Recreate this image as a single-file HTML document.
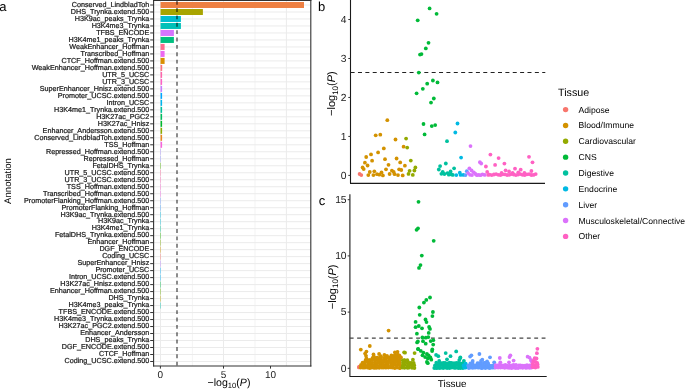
<!DOCTYPE html><html><head><meta charset="utf-8"><style>html,body{margin:0;padding:0;background:#fff;}svg{display:block;will-change:transform;}text{font-family:"Liberation Sans",sans-serif;text-rendering:geometricPrecision;}</style></head><body>
<svg width="685" height="389" viewBox="0 0 685 389">
<rect width="685" height="389" fill="#fff"/>
<line x1="160.5" y1="0.5" x2="160.5" y2="366.0" stroke="#EBEBEB" stroke-width="1.0"/>
<line x1="192.4" y1="0.5" x2="192.4" y2="366.0" stroke="#EBEBEB" stroke-width="0.6"/>
<line x1="223.5" y1="0.5" x2="223.5" y2="366.0" stroke="#EBEBEB" stroke-width="1.0"/>
<line x1="255.0" y1="0.5" x2="255.0" y2="366.0" stroke="#EBEBEB" stroke-width="0.6"/>
<line x1="286.4" y1="0.5" x2="286.4" y2="366.0" stroke="#EBEBEB" stroke-width="1.0"/>
<line x1="153.6" y1="5.00" x2="310.8" y2="5.00" stroke="#EBEBEB" stroke-width="1"/>
<line x1="153.6" y1="11.99" x2="310.8" y2="11.99" stroke="#EBEBEB" stroke-width="1"/>
<line x1="153.6" y1="18.98" x2="310.8" y2="18.98" stroke="#EBEBEB" stroke-width="1"/>
<line x1="153.6" y1="25.97" x2="310.8" y2="25.97" stroke="#EBEBEB" stroke-width="1"/>
<line x1="153.6" y1="32.96" x2="310.8" y2="32.96" stroke="#EBEBEB" stroke-width="1"/>
<line x1="153.6" y1="39.95" x2="310.8" y2="39.95" stroke="#EBEBEB" stroke-width="1"/>
<line x1="153.6" y1="46.94" x2="310.8" y2="46.94" stroke="#EBEBEB" stroke-width="1"/>
<line x1="153.6" y1="53.93" x2="310.8" y2="53.93" stroke="#EBEBEB" stroke-width="1"/>
<line x1="153.6" y1="60.92" x2="310.8" y2="60.92" stroke="#EBEBEB" stroke-width="1"/>
<line x1="153.6" y1="67.91" x2="310.8" y2="67.91" stroke="#EBEBEB" stroke-width="1"/>
<line x1="153.6" y1="74.90" x2="310.8" y2="74.90" stroke="#EBEBEB" stroke-width="1"/>
<line x1="153.6" y1="81.89" x2="310.8" y2="81.89" stroke="#EBEBEB" stroke-width="1"/>
<line x1="153.6" y1="88.88" x2="310.8" y2="88.88" stroke="#EBEBEB" stroke-width="1"/>
<line x1="153.6" y1="95.87" x2="310.8" y2="95.87" stroke="#EBEBEB" stroke-width="1"/>
<line x1="153.6" y1="102.86" x2="310.8" y2="102.86" stroke="#EBEBEB" stroke-width="1"/>
<line x1="153.6" y1="109.85" x2="310.8" y2="109.85" stroke="#EBEBEB" stroke-width="1"/>
<line x1="153.6" y1="116.84" x2="310.8" y2="116.84" stroke="#EBEBEB" stroke-width="1"/>
<line x1="153.6" y1="123.83" x2="310.8" y2="123.83" stroke="#EBEBEB" stroke-width="1"/>
<line x1="153.6" y1="130.82" x2="310.8" y2="130.82" stroke="#EBEBEB" stroke-width="1"/>
<line x1="153.6" y1="137.81" x2="310.8" y2="137.81" stroke="#EBEBEB" stroke-width="1"/>
<line x1="153.6" y1="144.80" x2="310.8" y2="144.80" stroke="#EBEBEB" stroke-width="1"/>
<line x1="153.6" y1="151.79" x2="310.8" y2="151.79" stroke="#EBEBEB" stroke-width="1"/>
<line x1="153.6" y1="158.78" x2="310.8" y2="158.78" stroke="#EBEBEB" stroke-width="1"/>
<line x1="153.6" y1="165.77" x2="310.8" y2="165.77" stroke="#EBEBEB" stroke-width="1"/>
<line x1="153.6" y1="172.76" x2="310.8" y2="172.76" stroke="#EBEBEB" stroke-width="1"/>
<line x1="153.6" y1="179.75" x2="310.8" y2="179.75" stroke="#EBEBEB" stroke-width="1"/>
<line x1="153.6" y1="186.74" x2="310.8" y2="186.74" stroke="#EBEBEB" stroke-width="1"/>
<line x1="153.6" y1="193.73" x2="310.8" y2="193.73" stroke="#EBEBEB" stroke-width="1"/>
<line x1="153.6" y1="200.72" x2="310.8" y2="200.72" stroke="#EBEBEB" stroke-width="1"/>
<line x1="153.6" y1="207.71" x2="310.8" y2="207.71" stroke="#EBEBEB" stroke-width="1"/>
<line x1="153.6" y1="214.70" x2="310.8" y2="214.70" stroke="#EBEBEB" stroke-width="1"/>
<line x1="153.6" y1="221.69" x2="310.8" y2="221.69" stroke="#EBEBEB" stroke-width="1"/>
<line x1="153.6" y1="228.68" x2="310.8" y2="228.68" stroke="#EBEBEB" stroke-width="1"/>
<line x1="153.6" y1="235.67" x2="310.8" y2="235.67" stroke="#EBEBEB" stroke-width="1"/>
<line x1="153.6" y1="242.66" x2="310.8" y2="242.66" stroke="#EBEBEB" stroke-width="1"/>
<line x1="153.6" y1="249.65" x2="310.8" y2="249.65" stroke="#EBEBEB" stroke-width="1"/>
<line x1="153.6" y1="256.64" x2="310.8" y2="256.64" stroke="#EBEBEB" stroke-width="1"/>
<line x1="153.6" y1="263.63" x2="310.8" y2="263.63" stroke="#EBEBEB" stroke-width="1"/>
<line x1="153.6" y1="270.62" x2="310.8" y2="270.62" stroke="#EBEBEB" stroke-width="1"/>
<line x1="153.6" y1="277.61" x2="310.8" y2="277.61" stroke="#EBEBEB" stroke-width="1"/>
<line x1="153.6" y1="284.60" x2="310.8" y2="284.60" stroke="#EBEBEB" stroke-width="1"/>
<line x1="153.6" y1="291.59" x2="310.8" y2="291.59" stroke="#EBEBEB" stroke-width="1"/>
<line x1="153.6" y1="298.58" x2="310.8" y2="298.58" stroke="#EBEBEB" stroke-width="1"/>
<line x1="153.6" y1="305.57" x2="310.8" y2="305.57" stroke="#EBEBEB" stroke-width="1"/>
<line x1="153.6" y1="312.56" x2="310.8" y2="312.56" stroke="#EBEBEB" stroke-width="1"/>
<line x1="153.6" y1="319.55" x2="310.8" y2="319.55" stroke="#EBEBEB" stroke-width="1"/>
<line x1="153.6" y1="326.54" x2="310.8" y2="326.54" stroke="#EBEBEB" stroke-width="1"/>
<line x1="153.6" y1="333.53" x2="310.8" y2="333.53" stroke="#EBEBEB" stroke-width="1"/>
<line x1="153.6" y1="340.52" x2="310.8" y2="340.52" stroke="#EBEBEB" stroke-width="1"/>
<line x1="153.6" y1="347.51" x2="310.8" y2="347.51" stroke="#EBEBEB" stroke-width="1"/>
<line x1="153.6" y1="354.50" x2="310.8" y2="354.50" stroke="#EBEBEB" stroke-width="1"/>
<line x1="153.6" y1="361.49" x2="310.8" y2="361.49" stroke="#EBEBEB" stroke-width="1"/>
<rect x="160.55" y="2.00" width="143.45" height="6.0" fill="#EE8043"/>
<rect x="160.55" y="8.99" width="42.35" height="6.0" fill="#A8A400"/>
<rect x="160.55" y="15.98" width="20.35" height="6.0" fill="#00BDD0"/>
<rect x="160.55" y="22.97" width="20.35" height="6.0" fill="#00C0B8"/>
<rect x="160.55" y="29.96" width="13.35" height="6.0" fill="#D575FE"/>
<rect x="160.55" y="36.95" width="13.35" height="6.0" fill="#00BF80"/>
<rect x="160.55" y="43.94" width="4.05" height="6.0" fill="#FF6D8E"/>
<rect x="160.55" y="50.93" width="4.05" height="6.0" fill="#EB69F0"/>
<rect x="160.55" y="57.92" width="4.05" height="6.0" fill="#D98F00"/>
<rect x="160.55" y="64.91" width="1.65" height="6.0" fill="#FC717E"/>
<rect x="160.55" y="71.90" width="1.55" height="6.0" fill="#FF65AC"/>
<rect x="160.55" y="78.89" width="1.55" height="6.0" fill="#FF61C6"/>
<rect x="160.55" y="85.88" width="1.55" height="6.0" fill="#C77CFF"/>
<rect x="160.55" y="92.87" width="1.55" height="6.0" fill="#00A7FF"/>
<rect x="160.55" y="99.86" width="1.55" height="6.0" fill="#00B5ED"/>
<rect x="160.55" y="106.85" width="1.55" height="6.0" fill="#00C19E"/>
<rect x="160.55" y="113.84" width="1.55" height="6.0" fill="#00BD5E"/>
<rect x="160.55" y="120.83" width="1.55" height="6.0" fill="#00B92E"/>
<rect x="160.55" y="127.82" width="1.55" height="6.0" fill="#8CAB00"/>
<rect x="160.55" y="134.81" width="1.55" height="6.0" fill="#E88521"/>
<rect x="160.55" y="141.80" width="1.55" height="6.0" fill="#F962DD"/>
<rect x="160" y="148.79" width="1" height="6.0" fill="#A28BFF" fill-opacity="0.4"/>
<rect x="160" y="155.78" width="1" height="6.0" fill="#8B93FF" fill-opacity="0.4"/>
<rect x="160" y="162.77" width="1" height="6.0" fill="#4FB400" fill-opacity="0.4"/>
<rect x="160" y="169.76" width="1" height="6.0" fill="#FF699D" fill-opacity="0.4"/>
<rect x="160" y="176.75" width="1" height="6.0" fill="#FF63B9" fill-opacity="0.4"/>
<rect x="160" y="183.74" width="1" height="6.0" fill="#FD61D2" fill-opacity="0.4"/>
<rect x="160" y="190.73" width="1" height="6.0" fill="#F365E7" fill-opacity="0.4"/>
<rect x="160" y="197.72" width="1" height="6.0" fill="#6D9AFF" fill-opacity="0.4"/>
<rect x="160" y="204.71" width="1" height="6.0" fill="#42A0FF" fill-opacity="0.4"/>
<rect x="160" y="211.70" width="1" height="6.0" fill="#00B8E4" fill-opacity="0.4"/>
<rect x="160" y="218.69" width="1" height="6.0" fill="#00BBDA" fill-opacity="0.4"/>
<rect x="160" y="225.68" width="1" height="6.0" fill="#00C090" fill-opacity="0.4"/>
<rect x="160" y="232.67" width="1" height="6.0" fill="#24B700" fill-opacity="0.4"/>
<rect x="160" y="239.66" width="1" height="6.0" fill="#7CAE00" fill-opacity="0.4"/>
<rect x="160" y="246.65" width="1" height="6.0" fill="#D19300" fill-opacity="0.4"/>
<rect x="160" y="253.64" width="1" height="6.0" fill="#F8766D" fill-opacity="0.4"/>
<rect x="160" y="260.63" width="1" height="6.0" fill="#B684FF" fill-opacity="0.4"/>
<rect x="160" y="267.62" width="1" height="6.0" fill="#00ACFC" fill-opacity="0.4"/>
<rect x="160" y="274.61" width="1" height="6.0" fill="#00B1F5" fill-opacity="0.4"/>
<rect x="160" y="281.60" width="1" height="6.0" fill="#00BB49" fill-opacity="0.4"/>
<rect x="160" y="288.59" width="1" height="6.0" fill="#68B100" fill-opacity="0.4"/>
<rect x="160" y="295.58" width="1" height="6.0" fill="#B4A000" fill-opacity="0.4"/>
<rect x="160" y="302.57" width="1" height="6.0" fill="#00C1AB" fill-opacity="0.4"/>
<line x1="177" y1="0.73" x2="177" y2="366.0" stroke="#000" stroke-opacity="0.6" stroke-width="1.5" stroke-dasharray="3.9 3.467"/>
<path d="M153.6 0V366.6M310.8 0V366.6" stroke="#333" stroke-width="1.1" fill="none"/>
<path d="M153.1 0.5H311.40000000000003M153.1 366.0H311.40000000000003" stroke="#333" stroke-width="1.1" fill="none"/>
<line x1="150.2" y1="5.00" x2="153.6" y2="5.00" stroke="#333" stroke-width="1"/>
<text x="149.3" y="6.80" font-size="7.2" fill="#1a1a1a" stroke="#1a1a1a" stroke-width="0.22" text-anchor="end">Conserved_LindbladToh</text>
<line x1="150.2" y1="11.99" x2="153.6" y2="11.99" stroke="#333" stroke-width="1"/>
<text x="149.3" y="13.79" font-size="7.2" fill="#1a1a1a" stroke="#1a1a1a" stroke-width="0.22" text-anchor="end">DHS_Trynka.extend.500</text>
<line x1="150.2" y1="18.98" x2="153.6" y2="18.98" stroke="#333" stroke-width="1"/>
<text x="149.3" y="20.78" font-size="7.2" fill="#1a1a1a" stroke="#1a1a1a" stroke-width="0.22" text-anchor="end">H3K9ac_peaks_Trynka</text>
<line x1="150.2" y1="25.97" x2="153.6" y2="25.97" stroke="#333" stroke-width="1"/>
<text x="149.3" y="27.77" font-size="7.2" fill="#1a1a1a" stroke="#1a1a1a" stroke-width="0.22" text-anchor="end">H3K4me3_Trynka</text>
<line x1="150.2" y1="32.96" x2="153.6" y2="32.96" stroke="#333" stroke-width="1"/>
<text x="149.3" y="34.76" font-size="7.2" fill="#1a1a1a" stroke="#1a1a1a" stroke-width="0.22" text-anchor="end">TFBS_ENCODE</text>
<line x1="150.2" y1="39.95" x2="153.6" y2="39.95" stroke="#333" stroke-width="1"/>
<text x="149.3" y="41.75" font-size="7.2" fill="#1a1a1a" stroke="#1a1a1a" stroke-width="0.22" text-anchor="end">H3K4me1_peaks_Trynka</text>
<line x1="150.2" y1="46.94" x2="153.6" y2="46.94" stroke="#333" stroke-width="1"/>
<text x="149.3" y="48.74" font-size="7.2" fill="#1a1a1a" stroke="#1a1a1a" stroke-width="0.22" text-anchor="end">WeakEnhancer_Hoffman</text>
<line x1="150.2" y1="53.93" x2="153.6" y2="53.93" stroke="#333" stroke-width="1"/>
<text x="149.3" y="55.73" font-size="7.2" fill="#1a1a1a" stroke="#1a1a1a" stroke-width="0.22" text-anchor="end">Transcribed_Hoffman</text>
<line x1="150.2" y1="60.92" x2="153.6" y2="60.92" stroke="#333" stroke-width="1"/>
<text x="149.3" y="62.72" font-size="7.2" fill="#1a1a1a" stroke="#1a1a1a" stroke-width="0.22" text-anchor="end">CTCF_Hoffman.extend.500</text>
<line x1="150.2" y1="67.91" x2="153.6" y2="67.91" stroke="#333" stroke-width="1"/>
<text x="149.3" y="69.71" font-size="7.2" fill="#1a1a1a" stroke="#1a1a1a" stroke-width="0.22" text-anchor="end">WeakEnhancer_Hoffman.extend.500</text>
<line x1="150.2" y1="74.90" x2="153.6" y2="74.90" stroke="#333" stroke-width="1"/>
<text x="149.3" y="76.70" font-size="7.2" fill="#1a1a1a" stroke="#1a1a1a" stroke-width="0.22" text-anchor="end">UTR_5_UCSC</text>
<line x1="150.2" y1="81.89" x2="153.6" y2="81.89" stroke="#333" stroke-width="1"/>
<text x="149.3" y="83.69" font-size="7.2" fill="#1a1a1a" stroke="#1a1a1a" stroke-width="0.22" text-anchor="end">UTR_3_UCSC</text>
<line x1="150.2" y1="88.88" x2="153.6" y2="88.88" stroke="#333" stroke-width="1"/>
<text x="149.3" y="90.68" font-size="7.2" fill="#1a1a1a" stroke="#1a1a1a" stroke-width="0.22" text-anchor="end">SuperEnhancer_Hnisz.extend.500</text>
<line x1="150.2" y1="95.87" x2="153.6" y2="95.87" stroke="#333" stroke-width="1"/>
<text x="149.3" y="97.67" font-size="7.2" fill="#1a1a1a" stroke="#1a1a1a" stroke-width="0.22" text-anchor="end">Promoter_UCSC.extend.500</text>
<line x1="150.2" y1="102.86" x2="153.6" y2="102.86" stroke="#333" stroke-width="1"/>
<text x="149.3" y="104.66" font-size="7.2" fill="#1a1a1a" stroke="#1a1a1a" stroke-width="0.22" text-anchor="end">Intron_UCSC</text>
<line x1="150.2" y1="109.85" x2="153.6" y2="109.85" stroke="#333" stroke-width="1"/>
<text x="149.3" y="111.65" font-size="7.2" fill="#1a1a1a" stroke="#1a1a1a" stroke-width="0.22" text-anchor="end">H3K4me1_Trynka.extend.500</text>
<line x1="150.2" y1="116.84" x2="153.6" y2="116.84" stroke="#333" stroke-width="1"/>
<text x="149.3" y="118.64" font-size="7.2" fill="#1a1a1a" stroke="#1a1a1a" stroke-width="0.22" text-anchor="end">H3K27ac_PGC2</text>
<line x1="150.2" y1="123.83" x2="153.6" y2="123.83" stroke="#333" stroke-width="1"/>
<text x="149.3" y="125.63" font-size="7.2" fill="#1a1a1a" stroke="#1a1a1a" stroke-width="0.22" text-anchor="end">H3K27ac_Hnisz</text>
<line x1="150.2" y1="130.82" x2="153.6" y2="130.82" stroke="#333" stroke-width="1"/>
<text x="149.3" y="132.62" font-size="7.2" fill="#1a1a1a" stroke="#1a1a1a" stroke-width="0.22" text-anchor="end">Enhancer_Andersson.extend.500</text>
<line x1="150.2" y1="137.81" x2="153.6" y2="137.81" stroke="#333" stroke-width="1"/>
<text x="149.3" y="139.61" font-size="7.2" fill="#1a1a1a" stroke="#1a1a1a" stroke-width="0.22" text-anchor="end">Conserved_LindbladToh.extend.500</text>
<line x1="150.2" y1="144.80" x2="153.6" y2="144.80" stroke="#333" stroke-width="1"/>
<text x="149.3" y="146.60" font-size="7.2" fill="#1a1a1a" stroke="#1a1a1a" stroke-width="0.22" text-anchor="end">TSS_Hoffman</text>
<line x1="150.2" y1="151.79" x2="153.6" y2="151.79" stroke="#333" stroke-width="1"/>
<text x="149.3" y="153.59" font-size="7.2" fill="#1a1a1a" stroke="#1a1a1a" stroke-width="0.22" text-anchor="end">Repressed_Hoffman.extend.500</text>
<line x1="150.2" y1="158.78" x2="153.6" y2="158.78" stroke="#333" stroke-width="1"/>
<text x="149.3" y="160.58" font-size="7.2" fill="#1a1a1a" stroke="#1a1a1a" stroke-width="0.22" text-anchor="end">Repressed_Hoffman</text>
<line x1="150.2" y1="165.77" x2="153.6" y2="165.77" stroke="#333" stroke-width="1"/>
<text x="149.3" y="167.57" font-size="7.2" fill="#1a1a1a" stroke="#1a1a1a" stroke-width="0.22" text-anchor="end">FetalDHS_Trynka</text>
<line x1="150.2" y1="172.76" x2="153.6" y2="172.76" stroke="#333" stroke-width="1"/>
<text x="149.3" y="174.56" font-size="7.2" fill="#1a1a1a" stroke="#1a1a1a" stroke-width="0.22" text-anchor="end">UTR_5_UCSC.extend.500</text>
<line x1="150.2" y1="179.75" x2="153.6" y2="179.75" stroke="#333" stroke-width="1"/>
<text x="149.3" y="181.55" font-size="7.2" fill="#1a1a1a" stroke="#1a1a1a" stroke-width="0.22" text-anchor="end">UTR_3_UCSC.extend.500</text>
<line x1="150.2" y1="186.74" x2="153.6" y2="186.74" stroke="#333" stroke-width="1"/>
<text x="149.3" y="188.54" font-size="7.2" fill="#1a1a1a" stroke="#1a1a1a" stroke-width="0.22" text-anchor="end">TSS_Hoffman.extend.500</text>
<line x1="150.2" y1="193.73" x2="153.6" y2="193.73" stroke="#333" stroke-width="1"/>
<text x="149.3" y="195.53" font-size="7.2" fill="#1a1a1a" stroke="#1a1a1a" stroke-width="0.22" text-anchor="end">Transcribed_Hoffman.extend.500</text>
<line x1="150.2" y1="200.72" x2="153.6" y2="200.72" stroke="#333" stroke-width="1"/>
<text x="149.3" y="202.52" font-size="7.2" fill="#1a1a1a" stroke="#1a1a1a" stroke-width="0.22" text-anchor="end">PromoterFlanking_Hoffman.extend.500</text>
<line x1="150.2" y1="207.71" x2="153.6" y2="207.71" stroke="#333" stroke-width="1"/>
<text x="149.3" y="209.51" font-size="7.2" fill="#1a1a1a" stroke="#1a1a1a" stroke-width="0.22" text-anchor="end">PromoterFlanking_Hoffman</text>
<line x1="150.2" y1="214.70" x2="153.6" y2="214.70" stroke="#333" stroke-width="1"/>
<text x="149.3" y="216.50" font-size="7.2" fill="#1a1a1a" stroke="#1a1a1a" stroke-width="0.22" text-anchor="end">H3K9ac_Trynka.extend.500</text>
<line x1="150.2" y1="221.69" x2="153.6" y2="221.69" stroke="#333" stroke-width="1"/>
<text x="149.3" y="223.49" font-size="7.2" fill="#1a1a1a" stroke="#1a1a1a" stroke-width="0.22" text-anchor="end">H3K9ac_Trynka</text>
<line x1="150.2" y1="228.68" x2="153.6" y2="228.68" stroke="#333" stroke-width="1"/>
<text x="149.3" y="230.48" font-size="7.2" fill="#1a1a1a" stroke="#1a1a1a" stroke-width="0.22" text-anchor="end">H3K4me1_Trynka</text>
<line x1="150.2" y1="235.67" x2="153.6" y2="235.67" stroke="#333" stroke-width="1"/>
<text x="149.3" y="237.47" font-size="7.2" fill="#1a1a1a" stroke="#1a1a1a" stroke-width="0.22" text-anchor="end">FetalDHS_Trynka.extend.500</text>
<line x1="150.2" y1="242.66" x2="153.6" y2="242.66" stroke="#333" stroke-width="1"/>
<text x="149.3" y="244.46" font-size="7.2" fill="#1a1a1a" stroke="#1a1a1a" stroke-width="0.22" text-anchor="end">Enhancer_Hoffman</text>
<line x1="150.2" y1="249.65" x2="153.6" y2="249.65" stroke="#333" stroke-width="1"/>
<text x="149.3" y="251.45" font-size="7.2" fill="#1a1a1a" stroke="#1a1a1a" stroke-width="0.22" text-anchor="end">DGF_ENCODE</text>
<line x1="150.2" y1="256.64" x2="153.6" y2="256.64" stroke="#333" stroke-width="1"/>
<text x="149.3" y="258.44" font-size="7.2" fill="#1a1a1a" stroke="#1a1a1a" stroke-width="0.22" text-anchor="end">Coding_UCSC</text>
<line x1="150.2" y1="263.63" x2="153.6" y2="263.63" stroke="#333" stroke-width="1"/>
<text x="149.3" y="265.43" font-size="7.2" fill="#1a1a1a" stroke="#1a1a1a" stroke-width="0.22" text-anchor="end">SuperEnhancer_Hnisz</text>
<line x1="150.2" y1="270.62" x2="153.6" y2="270.62" stroke="#333" stroke-width="1"/>
<text x="149.3" y="272.42" font-size="7.2" fill="#1a1a1a" stroke="#1a1a1a" stroke-width="0.22" text-anchor="end">Promoter_UCSC</text>
<line x1="150.2" y1="277.61" x2="153.6" y2="277.61" stroke="#333" stroke-width="1"/>
<text x="149.3" y="279.41" font-size="7.2" fill="#1a1a1a" stroke="#1a1a1a" stroke-width="0.22" text-anchor="end">Intron_UCSC.extend.500</text>
<line x1="150.2" y1="284.60" x2="153.6" y2="284.60" stroke="#333" stroke-width="1"/>
<text x="149.3" y="286.40" font-size="7.2" fill="#1a1a1a" stroke="#1a1a1a" stroke-width="0.22" text-anchor="end">H3K27ac_Hnisz.extend.500</text>
<line x1="150.2" y1="291.59" x2="153.6" y2="291.59" stroke="#333" stroke-width="1"/>
<text x="149.3" y="293.39" font-size="7.2" fill="#1a1a1a" stroke="#1a1a1a" stroke-width="0.22" text-anchor="end">Enhancer_Hoffman.extend.500</text>
<line x1="150.2" y1="298.58" x2="153.6" y2="298.58" stroke="#333" stroke-width="1"/>
<text x="149.3" y="300.38" font-size="7.2" fill="#1a1a1a" stroke="#1a1a1a" stroke-width="0.22" text-anchor="end">DHS_Trynka</text>
<line x1="150.2" y1="305.57" x2="153.6" y2="305.57" stroke="#333" stroke-width="1"/>
<text x="149.3" y="307.37" font-size="7.2" fill="#1a1a1a" stroke="#1a1a1a" stroke-width="0.22" text-anchor="end">H3K4me3_peaks_Trynka</text>
<line x1="150.2" y1="312.56" x2="153.6" y2="312.56" stroke="#333" stroke-width="1"/>
<text x="149.3" y="314.36" font-size="7.2" fill="#1a1a1a" stroke="#1a1a1a" stroke-width="0.22" text-anchor="end">TFBS_ENCODE.extend.500</text>
<line x1="150.2" y1="319.55" x2="153.6" y2="319.55" stroke="#333" stroke-width="1"/>
<text x="149.3" y="321.35" font-size="7.2" fill="#1a1a1a" stroke="#1a1a1a" stroke-width="0.22" text-anchor="end">H3K4me3_Trynka.extend.500</text>
<line x1="150.2" y1="326.54" x2="153.6" y2="326.54" stroke="#333" stroke-width="1"/>
<text x="149.3" y="328.34" font-size="7.2" fill="#1a1a1a" stroke="#1a1a1a" stroke-width="0.22" text-anchor="end">H3K27ac_PGC2.extend.500</text>
<line x1="150.2" y1="333.53" x2="153.6" y2="333.53" stroke="#333" stroke-width="1"/>
<text x="149.3" y="335.33" font-size="7.2" fill="#1a1a1a" stroke="#1a1a1a" stroke-width="0.22" text-anchor="end">Enhancer_Andersson</text>
<line x1="150.2" y1="340.52" x2="153.6" y2="340.52" stroke="#333" stroke-width="1"/>
<text x="149.3" y="342.32" font-size="7.2" fill="#1a1a1a" stroke="#1a1a1a" stroke-width="0.22" text-anchor="end">DHS_peaks_Trynka</text>
<line x1="150.2" y1="347.51" x2="153.6" y2="347.51" stroke="#333" stroke-width="1"/>
<text x="149.3" y="349.31" font-size="7.2" fill="#1a1a1a" stroke="#1a1a1a" stroke-width="0.22" text-anchor="end">DGF_ENCODE.extend.500</text>
<line x1="150.2" y1="354.50" x2="153.6" y2="354.50" stroke="#333" stroke-width="1"/>
<text x="149.3" y="356.30" font-size="7.2" fill="#1a1a1a" stroke="#1a1a1a" stroke-width="0.22" text-anchor="end">CTCF_Hoffman</text>
<line x1="150.2" y1="361.49" x2="153.6" y2="361.49" stroke="#333" stroke-width="1"/>
<text x="149.3" y="363.29" font-size="7.2" fill="#1a1a1a" stroke="#1a1a1a" stroke-width="0.22" text-anchor="end">Coding_UCSC.extend.500</text>
<line x1="160.4" y1="366.0" x2="160.4" y2="368.6" stroke="#333" stroke-width="1"/>
<text x="160.4" y="378.1" font-size="10" fill="#1a1a1a" text-anchor="middle">0</text>
<line x1="223.5" y1="366.0" x2="223.5" y2="368.6" stroke="#333" stroke-width="1"/>
<text x="223.5" y="378.1" font-size="10" fill="#1a1a1a" text-anchor="middle">5</text>
<line x1="270.5" y1="366.0" x2="270.5" y2="368.6" stroke="#333" stroke-width="1"/>
<text x="270.5" y="378.1" font-size="10" fill="#1a1a1a" text-anchor="middle">10</text>
<text x="229" y="385.6" font-size="10.6" fill="#000" text-anchor="middle">−log<tspan font-size="7.6" dy="2.2">10</tspan><tspan dy="-2.2">(</tspan><tspan font-style="italic">P</tspan>)</text>
<text transform="translate(11.0,181) rotate(-90)" font-size="9.6" fill="#000" text-anchor="middle">Annotation</text>
<text x="-0.8" y="10.8" font-size="13" fill="#000">a</text>
<text x="317.9" y="11.1" font-size="13" fill="#000">b</text>
<text x="318.8" y="204.7" font-size="13" fill="#000">c</text>
<path d="M350.5 0V183.4H545" stroke="#1a1a1a" stroke-width="1.1" fill="none" stroke-linejoin="round"/>
<line x1="348.3" y1="175.40" x2="350.5" y2="175.40" stroke="#333" stroke-width="1"/>
<text x="346.6" y="178.60" font-size="10.3" fill="#1a1a1a" text-anchor="end">0</text>
<line x1="348.3" y1="136.43" x2="350.5" y2="136.43" stroke="#333" stroke-width="1"/>
<text x="346.6" y="139.63" font-size="10.3" fill="#1a1a1a" text-anchor="end">1</text>
<line x1="348.3" y1="97.46" x2="350.5" y2="97.46" stroke="#333" stroke-width="1"/>
<text x="346.6" y="100.66" font-size="10.3" fill="#1a1a1a" text-anchor="end">2</text>
<line x1="348.3" y1="58.49" x2="350.5" y2="58.49" stroke="#333" stroke-width="1"/>
<text x="346.6" y="61.69" font-size="10.3" fill="#1a1a1a" text-anchor="end">3</text>
<line x1="348.3" y1="19.52" x2="350.5" y2="19.52" stroke="#333" stroke-width="1"/>
<text x="346.6" y="22.72" font-size="10.3" fill="#1a1a1a" text-anchor="end">4</text>
<line x1="350.6" y1="72.5" x2="545.3" y2="72.5" stroke="#222" stroke-width="1.1" stroke-dasharray="4.0 3.37"/>
<text transform="translate(335.4,93.6) rotate(-90)" font-size="11" fill="#000" text-anchor="middle">−log<tspan font-size="8" dy="2.3">10</tspan><tspan dy="-2.3">(</tspan><tspan font-style="italic">P</tspan>)</text>
<circle cx="359.6" cy="174.0" r="1.9" fill="#F8766D"/>
<circle cx="361.3" cy="175.1" r="1.9" fill="#F8766D"/>
<circle cx="387.3" cy="120.2" r="1.9" fill="#D39200"/>
<circle cx="375.7" cy="135.3" r="1.9" fill="#D39200"/>
<circle cx="380.3" cy="134.7" r="1.9" fill="#D39200"/>
<circle cx="395.5" cy="139.5" r="1.9" fill="#D39200"/>
<circle cx="403.6" cy="146.7" r="1.9" fill="#D39200"/>
<circle cx="383.8" cy="148.4" r="1.9" fill="#D39200"/>
<circle cx="378.1" cy="152.4" r="1.9" fill="#D39200"/>
<circle cx="371.0" cy="154.4" r="1.9" fill="#D39200"/>
<circle cx="366.2" cy="157.0" r="1.9" fill="#D39200"/>
<circle cx="385.0" cy="159.2" r="1.9" fill="#D39200"/>
<circle cx="396.6" cy="158.5" r="1.9" fill="#D39200"/>
<circle cx="372.1" cy="160.7" r="1.9" fill="#D39200"/>
<circle cx="364.9" cy="162.7" r="1.9" fill="#D39200"/>
<circle cx="367.6" cy="165.5" r="1.9" fill="#D39200"/>
<circle cx="400.2" cy="162.4" r="1.9" fill="#D39200"/>
<circle cx="388.5" cy="164.8" r="1.9" fill="#D39200"/>
<circle cx="404.9" cy="165.7" r="1.9" fill="#D39200"/>
<circle cx="362.6" cy="167.5" r="1.9" fill="#D39200"/>
<circle cx="363.7" cy="169.1" r="1.9" fill="#D39200"/>
<circle cx="386.0" cy="169.3" r="1.9" fill="#D39200"/>
<circle cx="399.1" cy="169.3" r="1.9" fill="#D39200"/>
<circle cx="401.3" cy="170.0" r="1.9" fill="#D39200"/>
<circle cx="391.9" cy="170.6" r="1.9" fill="#D39200"/>
<circle cx="369.8" cy="172.0" r="1.9" fill="#D39200"/>
<circle cx="374.3" cy="171.3" r="1.9" fill="#D39200"/>
<circle cx="381.5" cy="172.4" r="1.9" fill="#D39200"/>
<circle cx="393.7" cy="172.0" r="1.9" fill="#D39200"/>
<circle cx="368.3" cy="175.1" r="1.9" fill="#D39200"/>
<circle cx="373.4" cy="175.1" r="1.9" fill="#D39200"/>
<circle cx="377.0" cy="174.2" r="1.9" fill="#D39200"/>
<circle cx="379.3" cy="174.7" r="1.9" fill="#D39200"/>
<circle cx="382.9" cy="175.4" r="1.9" fill="#D39200"/>
<circle cx="389.6" cy="174.0" r="1.9" fill="#D39200"/>
<circle cx="394.6" cy="174.2" r="1.9" fill="#D39200"/>
<circle cx="398.0" cy="175.1" r="1.9" fill="#D39200"/>
<circle cx="402.7" cy="175.4" r="1.9" fill="#D39200"/>
<circle cx="406.1" cy="138.6" r="1.9" fill="#93AA00"/>
<circle cx="407.2" cy="147.6" r="1.9" fill="#93AA00"/>
<circle cx="410.8" cy="160.6" r="1.9" fill="#93AA00"/>
<circle cx="415.4" cy="167.4" r="1.9" fill="#93AA00"/>
<circle cx="409.6" cy="170.8" r="1.9" fill="#93AA00"/>
<circle cx="414.4" cy="170.5" r="1.9" fill="#93AA00"/>
<circle cx="408.5" cy="173.9" r="1.9" fill="#93AA00"/>
<circle cx="412.8" cy="174.9" r="1.9" fill="#93AA00"/>
<circle cx="429.6" cy="8.4" r="1.9" fill="#00BA38"/>
<circle cx="436.6" cy="13.8" r="1.9" fill="#00BA38"/>
<circle cx="417.7" cy="20.3" r="1.9" fill="#00BA38"/>
<circle cx="428.5" cy="42.8" r="1.9" fill="#00BA38"/>
<circle cx="425.8" cy="48.4" r="1.9" fill="#00BA38"/>
<circle cx="420.0" cy="54.6" r="1.9" fill="#00BA38"/>
<circle cx="421.5" cy="54.1" r="1.9" fill="#00BA38"/>
<circle cx="418.8" cy="72.6" r="1.9" fill="#00BA38"/>
<circle cx="432.9" cy="80.5" r="1.9" fill="#00BA38"/>
<circle cx="437.5" cy="82.4" r="1.9" fill="#00BA38"/>
<circle cx="427.2" cy="83.7" r="1.9" fill="#00BA38"/>
<circle cx="422.8" cy="88.8" r="1.9" fill="#00BA38"/>
<circle cx="416.6" cy="93.3" r="1.9" fill="#00BA38"/>
<circle cx="433.8" cy="98.5" r="1.9" fill="#00BA38"/>
<circle cx="431.0" cy="102.6" r="1.9" fill="#00BA38"/>
<circle cx="423.5" cy="124.0" r="1.9" fill="#00BA38"/>
<circle cx="431.8" cy="126.1" r="1.9" fill="#00BA38"/>
<circle cx="435.2" cy="125.1" r="1.9" fill="#00BA38"/>
<circle cx="424.6" cy="134.4" r="1.9" fill="#00BA38"/>
<circle cx="447.0" cy="141.2" r="1.9" fill="#00C19F"/>
<circle cx="445.8" cy="163.5" r="1.9" fill="#00C19F"/>
<circle cx="440.1" cy="166.1" r="1.9" fill="#00C19F"/>
<circle cx="454.1" cy="168.3" r="1.9" fill="#00C19F"/>
<circle cx="438.8" cy="169.5" r="1.9" fill="#00C19F"/>
<circle cx="442.7" cy="171.8" r="1.9" fill="#00C19F"/>
<circle cx="441.4" cy="173.8" r="1.9" fill="#00C19F"/>
<circle cx="444.4" cy="174.0" r="1.9" fill="#00C19F"/>
<circle cx="447.5" cy="173.1" r="1.9" fill="#00C19F"/>
<circle cx="450.6" cy="171.4" r="1.9" fill="#00C19F"/>
<circle cx="451.5" cy="174.4" r="1.9" fill="#00C19F"/>
<circle cx="448.8" cy="174.7" r="1.9" fill="#00C19F"/>
<circle cx="452.8" cy="174.9" r="1.9" fill="#00C19F"/>
<circle cx="457.5" cy="123.5" r="1.9" fill="#00B9E3"/>
<circle cx="455.3" cy="132.5" r="1.9" fill="#00B9E3"/>
<circle cx="461.1" cy="157.6" r="1.9" fill="#00B9E3"/>
<circle cx="456.3" cy="175.1" r="1.9" fill="#00B9E3"/>
<circle cx="459.8" cy="172.7" r="1.9" fill="#00B9E3"/>
<circle cx="460.6" cy="174.9" r="1.9" fill="#00B9E3"/>
<circle cx="463.3" cy="174.9" r="1.9" fill="#00B9E3"/>
<circle cx="466.8" cy="171.2" r="1.9" fill="#619CFF"/>
<circle cx="465.5" cy="175.1" r="1.9" fill="#619CFF"/>
<circle cx="470.5" cy="146.1" r="1.9" fill="#DB72FB"/>
<circle cx="479.9" cy="162.2" r="1.9" fill="#DB72FB"/>
<circle cx="481.2" cy="163.5" r="1.9" fill="#DB72FB"/>
<circle cx="469.4" cy="168.3" r="1.9" fill="#DB72FB"/>
<circle cx="468.1" cy="173.1" r="1.9" fill="#DB72FB"/>
<circle cx="471.6" cy="170.5" r="1.9" fill="#DB72FB"/>
<circle cx="473.8" cy="172.3" r="1.9" fill="#DB72FB"/>
<circle cx="475.5" cy="174.0" r="1.9" fill="#DB72FB"/>
<circle cx="472.0" cy="175.1" r="1.9" fill="#DB72FB"/>
<circle cx="478.6" cy="174.9" r="1.9" fill="#DB72FB"/>
<circle cx="482.5" cy="174.4" r="1.9" fill="#DB72FB"/>
<circle cx="484.7" cy="174.9" r="1.9" fill="#DB72FB"/>
<circle cx="470.0" cy="174.8" r="1.9" fill="#DB72FB"/>
<circle cx="476.9" cy="175.2" r="1.9" fill="#DB72FB"/>
<circle cx="480.5" cy="175.2" r="1.9" fill="#DB72FB"/>
<circle cx="490.4" cy="154.6" r="1.9" fill="#FF61C3"/>
<circle cx="498.6" cy="158.1" r="1.9" fill="#FF61C3"/>
<circle cx="495.1" cy="164.9" r="1.9" fill="#FF61C3"/>
<circle cx="504.4" cy="163.6" r="1.9" fill="#FF61C3"/>
<circle cx="485.9" cy="166.5" r="1.9" fill="#FF61C3"/>
<circle cx="529.0" cy="156.8" r="1.9" fill="#FF61C3"/>
<circle cx="532.5" cy="162.3" r="1.9" fill="#FF61C3"/>
<circle cx="515.0" cy="168.7" r="1.9" fill="#FF61C3"/>
<circle cx="520.7" cy="169.7" r="1.9" fill="#FF61C3"/>
<circle cx="505.6" cy="170.3" r="1.9" fill="#FF61C3"/>
<circle cx="531.4" cy="171.0" r="1.9" fill="#FF61C3"/>
<circle cx="509.1" cy="171.5" r="1.9" fill="#FF61C3"/>
<circle cx="487.2" cy="171.9" r="1.9" fill="#FF61C3"/>
<circle cx="501.6" cy="172.9" r="1.9" fill="#FF61C3"/>
<circle cx="512.6" cy="173.0" r="1.9" fill="#FF61C3"/>
<circle cx="524.4" cy="172.9" r="1.9" fill="#FF61C3"/>
<circle cx="518.3" cy="172.3" r="1.9" fill="#FF61C3"/>
<circle cx="488.2" cy="174.9" r="1.9" fill="#FF61C3"/>
<circle cx="489.5" cy="174.6" r="1.9" fill="#FF61C3"/>
<circle cx="491.7" cy="175.1" r="1.9" fill="#FF61C3"/>
<circle cx="493.9" cy="174.5" r="1.9" fill="#FF61C3"/>
<circle cx="496.1" cy="174.1" r="1.9" fill="#FF61C3"/>
<circle cx="498.3" cy="174.8" r="1.9" fill="#FF61C3"/>
<circle cx="500.5" cy="175.0" r="1.9" fill="#FF61C3"/>
<circle cx="502.7" cy="174.3" r="1.9" fill="#FF61C3"/>
<circle cx="504.9" cy="174.3" r="1.9" fill="#FF61C3"/>
<circle cx="507.1" cy="175.0" r="1.9" fill="#FF61C3"/>
<circle cx="509.3" cy="174.8" r="1.9" fill="#FF61C3"/>
<circle cx="511.5" cy="174.1" r="1.9" fill="#FF61C3"/>
<circle cx="513.7" cy="174.5" r="1.9" fill="#FF61C3"/>
<circle cx="515.9" cy="175.1" r="1.9" fill="#FF61C3"/>
<circle cx="518.1" cy="174.5" r="1.9" fill="#FF61C3"/>
<circle cx="520.3" cy="174.1" r="1.9" fill="#FF61C3"/>
<circle cx="522.5" cy="174.8" r="1.9" fill="#FF61C3"/>
<circle cx="524.7" cy="175.0" r="1.9" fill="#FF61C3"/>
<circle cx="526.9" cy="174.3" r="1.9" fill="#FF61C3"/>
<circle cx="529.1" cy="174.2" r="1.9" fill="#FF61C3"/>
<circle cx="531.3" cy="175.0" r="1.9" fill="#FF61C3"/>
<circle cx="533.5" cy="174.9" r="1.9" fill="#FF61C3"/>
<circle cx="535.7" cy="174.1" r="1.9" fill="#FF61C3"/>
<path d="M349.9 194.3V376.45H546.7" stroke="#1a1a1a" stroke-width="1.1" fill="none" stroke-linejoin="round"/>
<line x1="347.7" y1="368.30" x2="349.9" y2="368.30" stroke="#333" stroke-width="1"/>
<text x="346.6" y="371.50" font-size="10.3" fill="#1a1a1a" text-anchor="end">0</text>
<line x1="347.7" y1="312.10" x2="349.9" y2="312.10" stroke="#333" stroke-width="1"/>
<text x="346.6" y="315.30" font-size="10.3" fill="#1a1a1a" text-anchor="end">5</text>
<line x1="347.7" y1="255.90" x2="349.9" y2="255.90" stroke="#333" stroke-width="1"/>
<text x="346.6" y="259.10" font-size="10.3" fill="#1a1a1a" text-anchor="end">10</text>
<line x1="347.7" y1="199.70" x2="349.9" y2="199.70" stroke="#333" stroke-width="1"/>
<text x="346.6" y="202.90" font-size="10.3" fill="#1a1a1a" text-anchor="end">15</text>
<line x1="349.75" y1="338.1" x2="546.5" y2="338.1" stroke="#444" stroke-width="1.4" stroke-dasharray="3.85 3.53"/>
<circle cx="358.9" cy="367.4" r="1.9" fill="#F8766D"/>
<circle cx="359.2" cy="366.6" r="1.9" fill="#F8766D"/>
<circle cx="360.6" cy="367.5" r="1.9" fill="#D39200"/>
<circle cx="361.0" cy="364.9" r="1.9" fill="#D39200"/>
<circle cx="363.1" cy="367.7" r="1.9" fill="#D39200"/>
<circle cx="362.7" cy="365.3" r="1.9" fill="#D39200"/>
<circle cx="362.6" cy="362.6" r="1.9" fill="#D39200"/>
<circle cx="365.0" cy="367.5" r="1.9" fill="#D39200"/>
<circle cx="365.3" cy="365.5" r="1.9" fill="#D39200"/>
<circle cx="365.0" cy="362.5" r="1.9" fill="#D39200"/>
<circle cx="365.5" cy="360.5" r="1.9" fill="#D39200"/>
<circle cx="367.8" cy="367.7" r="1.9" fill="#D39200"/>
<circle cx="368.2" cy="364.9" r="1.9" fill="#D39200"/>
<circle cx="368.0" cy="362.5" r="1.9" fill="#D39200"/>
<circle cx="367.3" cy="359.8" r="1.9" fill="#D39200"/>
<circle cx="369.8" cy="368.1" r="1.9" fill="#D39200"/>
<circle cx="369.7" cy="365.3" r="1.9" fill="#D39200"/>
<circle cx="370.1" cy="362.6" r="1.9" fill="#D39200"/>
<circle cx="370.0" cy="359.8" r="1.9" fill="#D39200"/>
<circle cx="371.8" cy="367.6" r="1.9" fill="#D39200"/>
<circle cx="372.5" cy="365.2" r="1.9" fill="#D39200"/>
<circle cx="372.1" cy="362.8" r="1.9" fill="#D39200"/>
<circle cx="372.2" cy="360.0" r="1.9" fill="#D39200"/>
<circle cx="372.6" cy="357.8" r="1.9" fill="#D39200"/>
<circle cx="374.3" cy="367.9" r="1.9" fill="#D39200"/>
<circle cx="374.6" cy="365.6" r="1.9" fill="#D39200"/>
<circle cx="374.8" cy="362.5" r="1.9" fill="#D39200"/>
<circle cx="375.1" cy="359.8" r="1.9" fill="#D39200"/>
<circle cx="374.5" cy="357.8" r="1.9" fill="#D39200"/>
<circle cx="376.5" cy="367.8" r="1.9" fill="#D39200"/>
<circle cx="376.4" cy="365.4" r="1.9" fill="#D39200"/>
<circle cx="377.1" cy="362.8" r="1.9" fill="#D39200"/>
<circle cx="377.2" cy="360.0" r="1.9" fill="#D39200"/>
<circle cx="377.1" cy="357.7" r="1.9" fill="#D39200"/>
<circle cx="379.2" cy="367.8" r="1.9" fill="#D39200"/>
<circle cx="379.5" cy="365.6" r="1.9" fill="#D39200"/>
<circle cx="379.1" cy="362.8" r="1.9" fill="#D39200"/>
<circle cx="378.7" cy="360.3" r="1.9" fill="#D39200"/>
<circle cx="379.3" cy="358.0" r="1.9" fill="#D39200"/>
<circle cx="381.8" cy="367.6" r="1.9" fill="#D39200"/>
<circle cx="381.3" cy="365.4" r="1.9" fill="#D39200"/>
<circle cx="381.0" cy="362.7" r="1.9" fill="#D39200"/>
<circle cx="381.1" cy="359.8" r="1.9" fill="#D39200"/>
<circle cx="381.0" cy="357.8" r="1.9" fill="#D39200"/>
<circle cx="383.4" cy="367.6" r="1.9" fill="#D39200"/>
<circle cx="383.6" cy="365.5" r="1.9" fill="#D39200"/>
<circle cx="383.3" cy="362.7" r="1.9" fill="#D39200"/>
<circle cx="383.8" cy="360.5" r="1.9" fill="#D39200"/>
<circle cx="384.1" cy="357.9" r="1.9" fill="#D39200"/>
<circle cx="385.8" cy="367.7" r="1.9" fill="#D39200"/>
<circle cx="385.9" cy="365.6" r="1.9" fill="#D39200"/>
<circle cx="386.5" cy="362.4" r="1.9" fill="#D39200"/>
<circle cx="385.7" cy="359.9" r="1.9" fill="#D39200"/>
<circle cx="385.8" cy="357.6" r="1.9" fill="#D39200"/>
<circle cx="388.4" cy="367.6" r="1.9" fill="#D39200"/>
<circle cx="387.8" cy="365.2" r="1.9" fill="#D39200"/>
<circle cx="388.2" cy="362.8" r="1.9" fill="#D39200"/>
<circle cx="388.8" cy="360.3" r="1.9" fill="#D39200"/>
<circle cx="388.4" cy="357.7" r="1.9" fill="#D39200"/>
<circle cx="390.8" cy="367.4" r="1.9" fill="#D39200"/>
<circle cx="391.0" cy="365.5" r="1.9" fill="#D39200"/>
<circle cx="391.0" cy="362.9" r="1.9" fill="#D39200"/>
<circle cx="390.5" cy="360.1" r="1.9" fill="#D39200"/>
<circle cx="390.2" cy="357.7" r="1.9" fill="#D39200"/>
<circle cx="392.5" cy="367.5" r="1.9" fill="#D39200"/>
<circle cx="392.6" cy="365.0" r="1.9" fill="#D39200"/>
<circle cx="392.8" cy="362.3" r="1.9" fill="#D39200"/>
<circle cx="392.4" cy="359.9" r="1.9" fill="#D39200"/>
<circle cx="392.5" cy="357.5" r="1.9" fill="#D39200"/>
<circle cx="394.8" cy="368.1" r="1.9" fill="#D39200"/>
<circle cx="395.3" cy="365.0" r="1.9" fill="#D39200"/>
<circle cx="395.0" cy="362.6" r="1.9" fill="#D39200"/>
<circle cx="395.1" cy="359.8" r="1.9" fill="#D39200"/>
<circle cx="395.6" cy="358.0" r="1.9" fill="#D39200"/>
<circle cx="395.2" cy="355.0" r="1.9" fill="#D39200"/>
<circle cx="397.1" cy="367.5" r="1.9" fill="#D39200"/>
<circle cx="397.4" cy="365.1" r="1.9" fill="#D39200"/>
<circle cx="397.8" cy="362.4" r="1.9" fill="#D39200"/>
<circle cx="397.0" cy="360.5" r="1.9" fill="#D39200"/>
<circle cx="397.5" cy="357.3" r="1.9" fill="#D39200"/>
<circle cx="397.6" cy="354.7" r="1.9" fill="#D39200"/>
<circle cx="399.8" cy="368.2" r="1.9" fill="#D39200"/>
<circle cx="400.2" cy="365.4" r="1.9" fill="#D39200"/>
<circle cx="399.6" cy="362.6" r="1.9" fill="#D39200"/>
<circle cx="399.5" cy="360.4" r="1.9" fill="#D39200"/>
<circle cx="399.8" cy="357.8" r="1.9" fill="#D39200"/>
<circle cx="388.6" cy="330.6" r="1.9" fill="#D39200"/>
<circle cx="369.8" cy="346.0" r="1.9" fill="#D39200"/>
<circle cx="360.8" cy="349.6" r="1.9" fill="#D39200"/>
<circle cx="366.4" cy="351.6" r="1.9" fill="#D39200"/>
<circle cx="365.1" cy="353.6" r="1.9" fill="#D39200"/>
<circle cx="366.0" cy="355.8" r="1.9" fill="#D39200"/>
<circle cx="366.4" cy="358.4" r="1.9" fill="#D39200"/>
<circle cx="373.5" cy="354.4" r="1.9" fill="#D39200"/>
<circle cx="373.9" cy="356.6" r="1.9" fill="#D39200"/>
<circle cx="375.2" cy="359.7" r="1.9" fill="#D39200"/>
<circle cx="379.1" cy="354.0" r="1.9" fill="#D39200"/>
<circle cx="380.9" cy="356.2" r="1.9" fill="#D39200"/>
<circle cx="384.4" cy="354.9" r="1.9" fill="#D39200"/>
<circle cx="387.0" cy="355.8" r="1.9" fill="#D39200"/>
<circle cx="391.4" cy="355.3" r="1.9" fill="#D39200"/>
<circle cx="394.9" cy="352.3" r="1.9" fill="#D39200"/>
<circle cx="397.5" cy="351.8" r="1.9" fill="#D39200"/>
<circle cx="394.0" cy="355.8" r="1.9" fill="#D39200"/>
<circle cx="396.7" cy="356.6" r="1.9" fill="#D39200"/>
<circle cx="399.3" cy="355.3" r="1.9" fill="#D39200"/>
<circle cx="401.0" cy="357.5" r="1.9" fill="#D39200"/>
<circle cx="402.3" cy="367.6" r="1.9" fill="#93AA00"/>
<circle cx="402.8" cy="365.6" r="1.9" fill="#93AA00"/>
<circle cx="402.9" cy="362.9" r="1.9" fill="#93AA00"/>
<circle cx="402.8" cy="360.3" r="1.9" fill="#93AA00"/>
<circle cx="404.5" cy="367.8" r="1.9" fill="#93AA00"/>
<circle cx="404.7" cy="364.9" r="1.9" fill="#93AA00"/>
<circle cx="404.3" cy="362.5" r="1.9" fill="#93AA00"/>
<circle cx="404.6" cy="360.3" r="1.9" fill="#93AA00"/>
<circle cx="407.5" cy="367.8" r="1.9" fill="#93AA00"/>
<circle cx="407.5" cy="365.6" r="1.9" fill="#93AA00"/>
<circle cx="407.5" cy="362.6" r="1.9" fill="#93AA00"/>
<circle cx="409.1" cy="367.6" r="1.9" fill="#93AA00"/>
<circle cx="409.1" cy="365.0" r="1.9" fill="#93AA00"/>
<circle cx="409.5" cy="363.0" r="1.9" fill="#93AA00"/>
<circle cx="412.0" cy="367.8" r="1.9" fill="#93AA00"/>
<circle cx="411.8" cy="365.5" r="1.9" fill="#93AA00"/>
<circle cx="411.3" cy="362.8" r="1.9" fill="#93AA00"/>
<circle cx="414.4" cy="368.0" r="1.9" fill="#93AA00"/>
<circle cx="414.2" cy="365.2" r="1.9" fill="#93AA00"/>
<circle cx="413.7" cy="362.9" r="1.9" fill="#93AA00"/>
<circle cx="404.1" cy="352.3" r="1.9" fill="#93AA00"/>
<circle cx="405.0" cy="352.7" r="1.9" fill="#93AA00"/>
<circle cx="414.6" cy="353.1" r="1.9" fill="#93AA00"/>
<circle cx="412.9" cy="359.7" r="1.9" fill="#93AA00"/>
<circle cx="404.3" cy="360.2" r="1.9" fill="#93AA00"/>
<circle cx="407.3" cy="360.2" r="1.9" fill="#93AA00"/>
<circle cx="418.5" cy="201.8" r="1.9" fill="#00BA38"/>
<circle cx="416.6" cy="229.8" r="1.9" fill="#00BA38"/>
<circle cx="418.0" cy="228.3" r="1.9" fill="#00BA38"/>
<circle cx="433.7" cy="240.8" r="1.9" fill="#00BA38"/>
<circle cx="421.8" cy="255.6" r="1.9" fill="#00BA38"/>
<circle cx="420.5" cy="265.1" r="1.9" fill="#00BA38"/>
<circle cx="419.0" cy="267.9" r="1.9" fill="#00BA38"/>
<circle cx="430.0" cy="297.5" r="1.9" fill="#00BA38"/>
<circle cx="426.3" cy="299.9" r="1.9" fill="#00BA38"/>
<circle cx="423.9" cy="302.6" r="1.9" fill="#00BA38"/>
<circle cx="419.3" cy="307.5" r="1.9" fill="#00BA38"/>
<circle cx="432.9" cy="312.0" r="1.9" fill="#00BA38"/>
<circle cx="432.4" cy="316.1" r="1.9" fill="#00BA38"/>
<circle cx="419.7" cy="314.8" r="1.9" fill="#00BA38"/>
<circle cx="425.5" cy="319.5" r="1.9" fill="#00BA38"/>
<circle cx="426.5" cy="322.1" r="1.9" fill="#00BA38"/>
<circle cx="415.6" cy="321.9" r="1.9" fill="#00BA38"/>
<circle cx="418.8" cy="326.0" r="1.9" fill="#00BA38"/>
<circle cx="415.6" cy="327.2" r="1.9" fill="#00BA38"/>
<circle cx="422.0" cy="328.3" r="1.9" fill="#00BA38"/>
<circle cx="429.1" cy="327.0" r="1.9" fill="#00BA38"/>
<circle cx="430.0" cy="328.9" r="1.9" fill="#00BA38"/>
<circle cx="428.7" cy="332.9" r="1.9" fill="#00BA38"/>
<circle cx="416.9" cy="333.7" r="1.9" fill="#00BA38"/>
<circle cx="422.4" cy="337.5" r="1.9" fill="#00BA38"/>
<circle cx="425.8" cy="337.7" r="1.9" fill="#00BA38"/>
<circle cx="428.3" cy="337.1" r="1.9" fill="#00BA38"/>
<circle cx="423.0" cy="341.2" r="1.9" fill="#00BA38"/>
<circle cx="425.7" cy="343.7" r="1.9" fill="#00BA38"/>
<circle cx="430.7" cy="341.1" r="1.9" fill="#00BA38"/>
<circle cx="433.3" cy="340.2" r="1.9" fill="#00BA38"/>
<circle cx="433.2" cy="344.6" r="1.9" fill="#00BA38"/>
<circle cx="417.1" cy="342.4" r="1.9" fill="#00BA38"/>
<circle cx="417.9" cy="341.4" r="1.9" fill="#00BA38"/>
<circle cx="418.1" cy="349.2" r="1.9" fill="#00BA38"/>
<circle cx="420.8" cy="350.9" r="1.9" fill="#00BA38"/>
<circle cx="423.4" cy="352.7" r="1.9" fill="#00BA38"/>
<circle cx="426.9" cy="354.0" r="1.9" fill="#00BA38"/>
<circle cx="428.6" cy="355.3" r="1.9" fill="#00BA38"/>
<circle cx="432.1" cy="351.0" r="1.9" fill="#00BA38"/>
<circle cx="422.5" cy="355.3" r="1.9" fill="#00BA38"/>
<circle cx="425.1" cy="357.1" r="1.9" fill="#00BA38"/>
<circle cx="427.8" cy="358.4" r="1.9" fill="#00BA38"/>
<circle cx="430.4" cy="357.5" r="1.9" fill="#00BA38"/>
<circle cx="431.3" cy="359.7" r="1.9" fill="#00BA38"/>
<circle cx="426.9" cy="361.9" r="1.9" fill="#00BA38"/>
<circle cx="427.8" cy="363.2" r="1.9" fill="#00BA38"/>
<circle cx="418.1" cy="348.8" r="1.9" fill="#00BA38"/>
<circle cx="432.3" cy="349.5" r="1.9" fill="#00BA38"/>
<circle cx="434.3" cy="368.0" r="1.9" fill="#00C19F"/>
<circle cx="435.0" cy="365.3" r="1.9" fill="#00C19F"/>
<circle cx="436.6" cy="368.2" r="1.9" fill="#00C19F"/>
<circle cx="436.9" cy="365.1" r="1.9" fill="#00C19F"/>
<circle cx="436.3" cy="362.7" r="1.9" fill="#00C19F"/>
<circle cx="439.2" cy="368.0" r="1.9" fill="#00C19F"/>
<circle cx="438.5" cy="365.7" r="1.9" fill="#00C19F"/>
<circle cx="439.3" cy="363.1" r="1.9" fill="#00C19F"/>
<circle cx="440.8" cy="367.8" r="1.9" fill="#00C19F"/>
<circle cx="440.6" cy="365.0" r="1.9" fill="#00C19F"/>
<circle cx="441.5" cy="363.1" r="1.9" fill="#00C19F"/>
<circle cx="443.2" cy="368.1" r="1.9" fill="#00C19F"/>
<circle cx="443.1" cy="365.7" r="1.9" fill="#00C19F"/>
<circle cx="443.5" cy="362.8" r="1.9" fill="#00C19F"/>
<circle cx="445.1" cy="367.6" r="1.9" fill="#00C19F"/>
<circle cx="445.0" cy="365.5" r="1.9" fill="#00C19F"/>
<circle cx="445.1" cy="362.9" r="1.9" fill="#00C19F"/>
<circle cx="447.1" cy="368.1" r="1.9" fill="#00C19F"/>
<circle cx="447.3" cy="365.4" r="1.9" fill="#00C19F"/>
<circle cx="447.5" cy="363.3" r="1.9" fill="#00C19F"/>
<circle cx="449.5" cy="368.1" r="1.9" fill="#00C19F"/>
<circle cx="449.6" cy="365.4" r="1.9" fill="#00C19F"/>
<circle cx="449.6" cy="362.6" r="1.9" fill="#00C19F"/>
<circle cx="451.7" cy="367.5" r="1.9" fill="#00C19F"/>
<circle cx="451.3" cy="365.6" r="1.9" fill="#00C19F"/>
<circle cx="451.5" cy="363.0" r="1.9" fill="#00C19F"/>
<circle cx="454.2" cy="367.8" r="1.9" fill="#00C19F"/>
<circle cx="453.8" cy="365.4" r="1.9" fill="#00C19F"/>
<circle cx="454.0" cy="363.2" r="1.9" fill="#00C19F"/>
<circle cx="455.7" cy="367.8" r="1.9" fill="#00C19F"/>
<circle cx="455.8" cy="365.2" r="1.9" fill="#00C19F"/>
<circle cx="456.4" cy="363.0" r="1.9" fill="#00C19F"/>
<circle cx="458.3" cy="368.0" r="1.9" fill="#00C19F"/>
<circle cx="458.7" cy="365.4" r="1.9" fill="#00C19F"/>
<circle cx="458.4" cy="363.0" r="1.9" fill="#00C19F"/>
<circle cx="460.4" cy="368.0" r="1.9" fill="#00C19F"/>
<circle cx="460.4" cy="365.4" r="1.9" fill="#00C19F"/>
<circle cx="460.4" cy="363.4" r="1.9" fill="#00C19F"/>
<circle cx="462.8" cy="368.1" r="1.9" fill="#00C19F"/>
<circle cx="463.0" cy="365.2" r="1.9" fill="#00C19F"/>
<circle cx="462.6" cy="363.4" r="1.9" fill="#00C19F"/>
<circle cx="436.1" cy="354.9" r="1.9" fill="#00C19F"/>
<circle cx="438.3" cy="356.2" r="1.9" fill="#00C19F"/>
<circle cx="445.7" cy="353.1" r="1.9" fill="#00C19F"/>
<circle cx="456.2" cy="351.4" r="1.9" fill="#00C19F"/>
<circle cx="450.5" cy="356.2" r="1.9" fill="#00C19F"/>
<circle cx="447.0" cy="359.3" r="1.9" fill="#00C19F"/>
<circle cx="460.2" cy="358.0" r="1.9" fill="#00C19F"/>
<circle cx="459.3" cy="360.1" r="1.9" fill="#00C19F"/>
<circle cx="439.2" cy="361.0" r="1.9" fill="#00C19F"/>
<circle cx="460.4" cy="357.5" r="1.9" fill="#00C19F"/>
<circle cx="463.9" cy="361.0" r="1.9" fill="#00C19F"/>
<circle cx="464.3" cy="367.5" r="1.9" fill="#00B9E3"/>
<circle cx="463.6" cy="365.4" r="1.9" fill="#00B9E3"/>
<circle cx="465.7" cy="367.6" r="1.9" fill="#00B9E3"/>
<circle cx="465.7" cy="365.5" r="1.9" fill="#00B9E3"/>
<circle cx="465.7" cy="363.6" r="1.9" fill="#00B9E3"/>
<circle cx="468.8" cy="368.1" r="1.9" fill="#619CFF"/>
<circle cx="468.2" cy="365.6" r="1.9" fill="#619CFF"/>
<circle cx="470.8" cy="367.5" r="1.9" fill="#619CFF"/>
<circle cx="471.0" cy="365.8" r="1.9" fill="#619CFF"/>
<circle cx="470.4" cy="363.4" r="1.9" fill="#619CFF"/>
<circle cx="472.7" cy="367.8" r="1.9" fill="#619CFF"/>
<circle cx="473.3" cy="365.7" r="1.9" fill="#619CFF"/>
<circle cx="472.5" cy="362.9" r="1.9" fill="#619CFF"/>
<circle cx="475.0" cy="367.7" r="1.9" fill="#619CFF"/>
<circle cx="474.7" cy="365.3" r="1.9" fill="#619CFF"/>
<circle cx="477.4" cy="367.4" r="1.9" fill="#619CFF"/>
<circle cx="477.2" cy="365.4" r="1.9" fill="#619CFF"/>
<circle cx="478.8" cy="367.7" r="1.9" fill="#619CFF"/>
<circle cx="479.4" cy="365.4" r="1.9" fill="#619CFF"/>
<circle cx="478.9" cy="363.4" r="1.9" fill="#619CFF"/>
<circle cx="481.7" cy="368.2" r="1.9" fill="#619CFF"/>
<circle cx="481.1" cy="365.2" r="1.9" fill="#619CFF"/>
<circle cx="481.0" cy="363.2" r="1.9" fill="#619CFF"/>
<circle cx="483.4" cy="367.5" r="1.9" fill="#619CFF"/>
<circle cx="483.5" cy="365.7" r="1.9" fill="#619CFF"/>
<circle cx="483.9" cy="362.8" r="1.9" fill="#619CFF"/>
<circle cx="485.4" cy="368.1" r="1.9" fill="#619CFF"/>
<circle cx="485.9" cy="365.6" r="1.9" fill="#619CFF"/>
<circle cx="485.4" cy="362.6" r="1.9" fill="#619CFF"/>
<circle cx="488.1" cy="367.7" r="1.9" fill="#619CFF"/>
<circle cx="487.5" cy="365.8" r="1.9" fill="#619CFF"/>
<circle cx="488.1" cy="363.2" r="1.9" fill="#619CFF"/>
<circle cx="489.7" cy="368.1" r="1.9" fill="#619CFF"/>
<circle cx="489.7" cy="365.7" r="1.9" fill="#619CFF"/>
<circle cx="492.2" cy="367.7" r="1.9" fill="#619CFF"/>
<circle cx="492.3" cy="365.7" r="1.9" fill="#619CFF"/>
<circle cx="494.2" cy="367.5" r="1.9" fill="#619CFF"/>
<circle cx="494.4" cy="365.2" r="1.9" fill="#619CFF"/>
<circle cx="471.4" cy="355.3" r="1.9" fill="#619CFF"/>
<circle cx="470.1" cy="356.6" r="1.9" fill="#619CFF"/>
<circle cx="479.4" cy="354.0" r="1.9" fill="#619CFF"/>
<circle cx="490.0" cy="357.3" r="1.9" fill="#619CFF"/>
<circle cx="482.3" cy="359.7" r="1.9" fill="#619CFF"/>
<circle cx="481.0" cy="361.0" r="1.9" fill="#619CFF"/>
<circle cx="472.7" cy="361.0" r="1.9" fill="#619CFF"/>
<circle cx="487.1" cy="361.5" r="1.9" fill="#619CFF"/>
<circle cx="494.2" cy="362.3" r="1.9" fill="#619CFF"/>
<circle cx="477.5" cy="363.2" r="1.9" fill="#619CFF"/>
<circle cx="495.6" cy="367.5" r="1.9" fill="#DB72FB"/>
<circle cx="495.6" cy="365.1" r="1.9" fill="#DB72FB"/>
<circle cx="498.1" cy="367.6" r="1.9" fill="#DB72FB"/>
<circle cx="498.5" cy="365.1" r="1.9" fill="#DB72FB"/>
<circle cx="500.5" cy="367.5" r="1.9" fill="#DB72FB"/>
<circle cx="500.3" cy="364.9" r="1.9" fill="#DB72FB"/>
<circle cx="502.5" cy="367.4" r="1.9" fill="#DB72FB"/>
<circle cx="503.0" cy="365.3" r="1.9" fill="#DB72FB"/>
<circle cx="504.7" cy="367.8" r="1.9" fill="#DB72FB"/>
<circle cx="505.4" cy="365.0" r="1.9" fill="#DB72FB"/>
<circle cx="507.6" cy="367.7" r="1.9" fill="#DB72FB"/>
<circle cx="507.2" cy="365.6" r="1.9" fill="#DB72FB"/>
<circle cx="509.4" cy="367.8" r="1.9" fill="#DB72FB"/>
<circle cx="509.7" cy="365.7" r="1.9" fill="#DB72FB"/>
<circle cx="511.6" cy="368.1" r="1.9" fill="#DB72FB"/>
<circle cx="512.0" cy="365.4" r="1.9" fill="#DB72FB"/>
<circle cx="513.9" cy="367.7" r="1.9" fill="#DB72FB"/>
<circle cx="513.6" cy="365.0" r="1.9" fill="#DB72FB"/>
<circle cx="515.8" cy="368.0" r="1.9" fill="#DB72FB"/>
<circle cx="516.0" cy="365.0" r="1.9" fill="#DB72FB"/>
<circle cx="518.1" cy="368.1" r="1.9" fill="#DB72FB"/>
<circle cx="518.9" cy="365.4" r="1.9" fill="#DB72FB"/>
<circle cx="520.5" cy="367.6" r="1.9" fill="#DB72FB"/>
<circle cx="520.5" cy="365.3" r="1.9" fill="#DB72FB"/>
<circle cx="522.7" cy="367.8" r="1.9" fill="#DB72FB"/>
<circle cx="522.8" cy="365.7" r="1.9" fill="#DB72FB"/>
<circle cx="525.7" cy="367.8" r="1.9" fill="#DB72FB"/>
<circle cx="525.0" cy="365.7" r="1.9" fill="#DB72FB"/>
<circle cx="527.3" cy="367.7" r="1.9" fill="#DB72FB"/>
<circle cx="527.0" cy="365.2" r="1.9" fill="#DB72FB"/>
<circle cx="529.7" cy="367.8" r="1.9" fill="#DB72FB"/>
<circle cx="529.5" cy="365.3" r="1.9" fill="#DB72FB"/>
<circle cx="531.5" cy="367.6" r="1.9" fill="#DB72FB"/>
<circle cx="531.6" cy="365.2" r="1.9" fill="#DB72FB"/>
<circle cx="499.8" cy="358.0" r="1.9" fill="#DB72FB"/>
<circle cx="510.4" cy="355.3" r="1.9" fill="#DB72FB"/>
<circle cx="509.5" cy="357.1" r="1.9" fill="#DB72FB"/>
<circle cx="513.6" cy="360.6" r="1.9" fill="#DB72FB"/>
<circle cx="500.3" cy="362.3" r="1.9" fill="#DB72FB"/>
<circle cx="509.0" cy="362.3" r="1.9" fill="#DB72FB"/>
<circle cx="527.6" cy="356.7" r="1.9" fill="#DB72FB"/>
<circle cx="529.5" cy="357.6" r="1.9" fill="#DB72FB"/>
<circle cx="530.9" cy="359.9" r="1.9" fill="#DB72FB"/>
<circle cx="531.6" cy="361.3" r="1.9" fill="#DB72FB"/>
<circle cx="537.4" cy="348.8" r="1.9" fill="#FF61C3"/>
<circle cx="536.9" cy="353.2" r="1.9" fill="#FF61C3"/>
<circle cx="534.7" cy="358.2" r="1.9" fill="#FF61C3"/>
<circle cx="536.5" cy="358.5" r="1.9" fill="#FF61C3"/>
<circle cx="533.3" cy="361.0" r="1.9" fill="#FF61C3"/>
<circle cx="535.4" cy="362.0" r="1.9" fill="#FF61C3"/>
<circle cx="537.2" cy="363.0" r="1.9" fill="#FF61C3"/>
<circle cx="532.6" cy="363.8" r="1.9" fill="#FF61C3"/>
<circle cx="534.7" cy="365.5" r="1.9" fill="#FF61C3"/>
<circle cx="537.8" cy="366.9" r="1.9" fill="#FF61C3"/>
<circle cx="535.4" cy="367.6" r="1.9" fill="#FF61C3"/>
<circle cx="533.3" cy="367.2" r="1.9" fill="#FF61C3"/>
<circle cx="537.6" cy="364.5" r="1.9" fill="#FF61C3"/>
<circle cx="532.4" cy="366.8" r="1.9" fill="#FF61C3"/>
<text transform="translate(335.6,286.8) rotate(-90)" font-size="11" fill="#000" text-anchor="middle">−log<tspan font-size="8" dy="2.3">10</tspan><tspan dy="-2.3">(</tspan><tspan font-style="italic">P</tspan>)</text>
<text x="452.2" y="387.2" font-size="9.95" fill="#000" text-anchor="middle">Tissue</text>
<text x="558.1" y="95.8" font-size="10.7" fill="#000">Tissue</text>
<circle cx="565.6" cy="109.60" r="2.7" fill="#F8766D"/>
<text x="578.6" y="112.60" font-size="8.6" fill="#000">Adipose</text>
<circle cx="565.6" cy="125.45" r="2.7" fill="#D39200"/>
<text x="578.6" y="128.45" font-size="8.6" fill="#000">Blood/Immune</text>
<circle cx="565.6" cy="141.30" r="2.7" fill="#93AA00"/>
<text x="578.6" y="144.30" font-size="8.6" fill="#000">Cardiovascular</text>
<circle cx="565.6" cy="157.15" r="2.7" fill="#00BA38"/>
<text x="578.6" y="160.15" font-size="8.6" fill="#000">CNS</text>
<circle cx="565.6" cy="173.00" r="2.7" fill="#00C19F"/>
<text x="578.6" y="176.00" font-size="8.6" fill="#000">Digestive</text>
<circle cx="565.6" cy="188.85" r="2.7" fill="#00B9E3"/>
<text x="578.6" y="191.85" font-size="8.6" fill="#000">Endocrine</text>
<circle cx="565.6" cy="204.70" r="2.7" fill="#619CFF"/>
<text x="578.6" y="207.70" font-size="8.6" fill="#000">Liver</text>
<circle cx="565.6" cy="220.55" r="2.7" fill="#DB72FB"/>
<text x="578.6" y="223.55" font-size="8.6" fill="#000">Musculoskeletal/Connective</text>
<circle cx="565.6" cy="236.40" r="2.7" fill="#FF61C3"/>
<text x="578.6" y="239.40" font-size="8.6" fill="#000">Other</text>
</svg></body></html>
